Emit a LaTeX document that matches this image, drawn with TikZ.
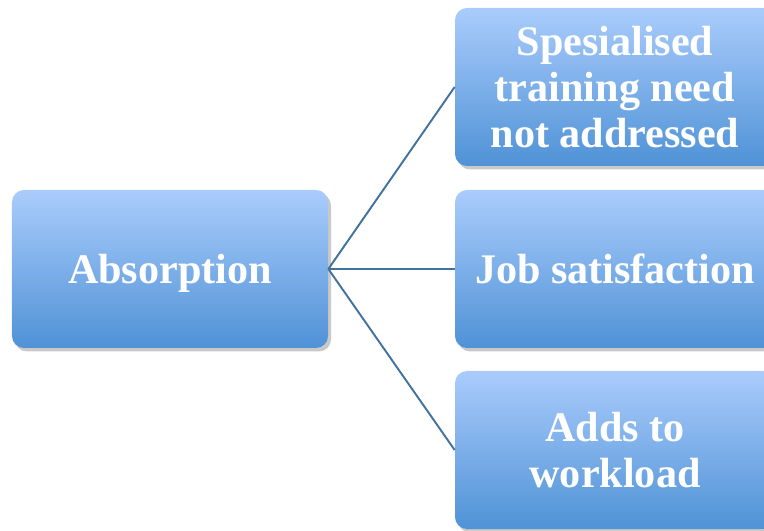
\documentclass[tikz,border=0pt]{standalone}
\usepackage{fontspec}
\setmainfont{Liberation Serif}
\usepackage{xcolor}
\usepackage{tikz}
\usetikzlibrary{calc, shadows}

\definecolor{boxtop}{HTML}{AACCFC}
\definecolor{boxbottom}{HTML}{4F92D6}
\definecolor{linkblue}{HTML}{44729E}

\begin{document}
\begin{tikzpicture}[
		box/.style = {rounded corners = 0.24cm, top color = boxtop, bottom color = boxbottom,
			minimum width = 6.32cm, minimum height = 3.16cm, text = white, align = center,
			font = \fontsize{24}{26}\selectfont\bfseries,
			drop shadow = {shadow xshift = 0.06cm, shadow yshift = -0.07cm, opacity = 0.3, fill = black!70}},
		link/.style = {draw = linkblue, line width = 1.1pt}
	]
		\def\W{15.28};
		\def\H{10.6};
		\def\xr{12.3};
		
		\useasboundingbox (0,0) rectangle (\W,\H);
		\clip (0,0) rectangle (\W,\H);
		
		\node [box, text depth = 0pt] (absorption) at (3.4,5.22) {Absorption};
		
		\node [box, minimum width = 6.4cm] (training) at (\xr,8.86) {Spesialised\\training need\\not addressed};
		\node [box, minimum width = 6.4cm, text depth = 0pt] (satisfaction) at (\xr,5.22) {Job satisfaction};
		\node [box, minimum width = 6.4cm] (workload) at (\xr,1.6) {Adds to\\workload};
		
		\draw [link] (absorption.east) -- (training.west);
		\draw [link] (absorption.east) -- (satisfaction.west);
		\draw [link] (absorption.east) -- (workload.west);
	\end{tikzpicture}
\end{document}
